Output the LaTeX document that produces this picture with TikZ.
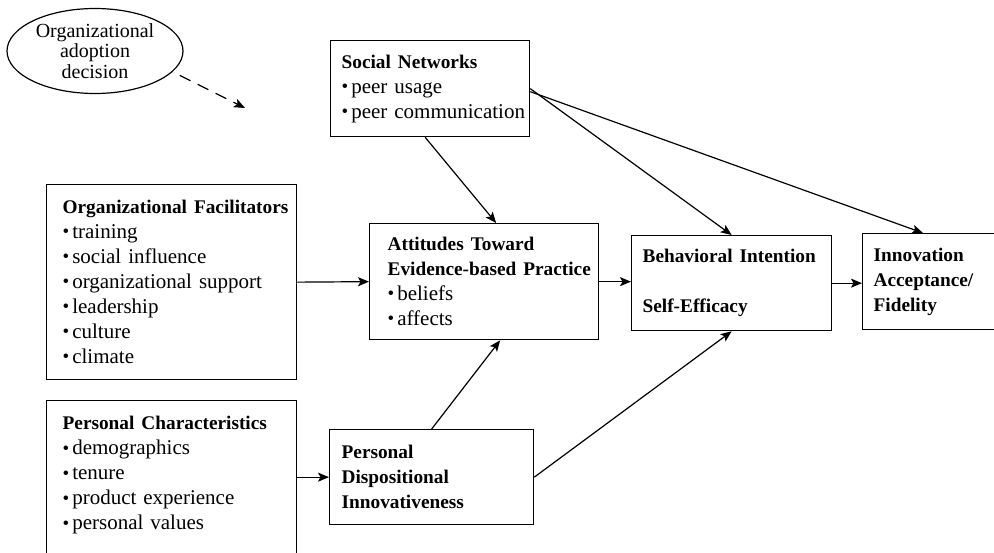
\documentclass[tikz,border=0pt]{standalone}
\usepackage{fontspec}
\setmainfont{Liberation Serif}
\usetikzlibrary{arrows.meta,shapes.geometric}
\newcommand{\boxhead}[1]{\mbox{\fontsize{19.3}{25}\selectfont\bfseries #1}}
\newcommand{\itm}[1]{\mbox{\raisebox{.8pt}{\scalebox{.9}{\textbullet}}\hspace{3pt}#1}}
\tikzset{
  factor/.style={draw, line width=1.3pt, anchor=north west, align=left, inner ysep=0pt,
    font=\fontsize{21}{25}\selectfont},
  link/.style={line width=1.2pt, -{Stealth[length=11pt,width=9pt,inset=2.5pt]}},
}
\begin{document}
\begin{tikzpicture}[x=1pt,y=-1pt]
  \useasboundingbox (0,0) rectangle (994,552);

  \node[ellipse, draw, line width=1.2pt, minimum width=176pt, minimum height=85pt, inner sep=0pt,
    align=center, font=\fontsize{20}{20.5}\selectfont] (decision) at (95,51) {Organizational\\adoption\\decision};
  \coordinate (dashend) at (245,108);

  \node[factor, inner xsep=11pt, text width=177pt, minimum width=199pt, minimum height=96pt] (social) at (330,40)
    {\boxhead{Social Networks}\\\itm{peer usage}\\\itm{peer communication}};
  \node[factor, inner xsep=18pt, text width=193pt, minimum width=229pt, minimum height=116pt] (attitude) at (369,223)
    {\boxhead{Attitudes Toward}\\\boxhead{Evidence-based Practice}\\\itm{beliefs}\\\itm{affects}};
  \node[factor, inner xsep=11pt, text width=178pt, minimum width=200pt, minimum height=95pt] (intent) at (631,235)
    {\boxhead{Behavioral Intention}\\[25pt]\boxhead{Self-Efficacy}};
  \node[factor, inner xsep=11pt, text width=128pt, minimum width=150pt, minimum height=96pt] (accept) at (862,233)
    {\boxhead{Innovation}\\\boxhead{Acceptance/}\\\boxhead{Fidelity}};
  \node[factor, inner xsep=16pt, text width=218pt, minimum width=250pt, minimum height=195pt] (orgfac) at (46,184)
    {\boxhead{Organizational Facilitators}\\\itm{training}\\\itm{social influence}\\
     \itm{organizational support}\\\itm{leadership}\\\itm{culture}\\\itm{climate}};
  \node[factor, inner xsep=16pt, text width=218pt, minimum width=250pt, minimum height=170pt] (perschar) at (46,400)
    {\boxhead{Personal Characteristics}\\\itm{demographics}\\\itm{tenure}\\
     \itm{product experience}\\\itm{personal values}\\\mbox{}};
  \node[factor, inner xsep=12pt, text width=180pt, minimum width=204pt, minimum height=95pt] (innov) at (329,429)
    {\boxhead{Personal}\\\boxhead{Dispositional}\\\boxhead{Innovativeness}};

  \draw[link, dash pattern=on 12pt off 8pt, shorten <=8pt] (decision.-15) -- (dashend);
  \draw[link] ([xshift=-5pt]social.south) -- ([xshift=12pt]attitude.north);
  \draw[link] (social.east) -- (intent.north);
  \draw[link] ([yshift=-3pt]social.east) -- ([xshift=61pt]accept.north west);
  \draw[link] (orgfac.east) -- (attitude.west);
  \draw[link] (attitude.east) -- (attitude.east -| intent.west);
  \draw[link] (intent.east) -- (intent.east -| accept.west);
  \draw[link] (perschar.east |- innov.west) -- (innov.west);
  \draw[link] (innov.north) -- ([xshift=16pt]attitude.south);
  \draw[link] (innov.east) -- (intent.south);
\end{tikzpicture}
\end{document}
